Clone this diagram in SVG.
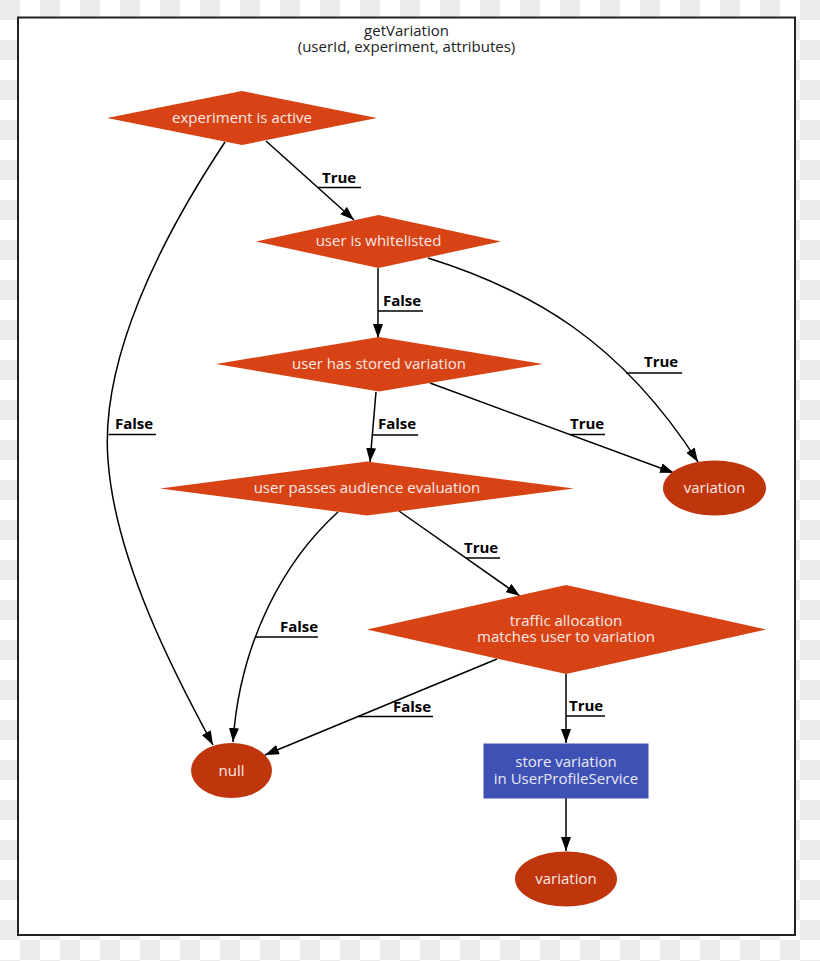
<svg xmlns="http://www.w3.org/2000/svg" width="820" height="961" viewBox="0 0 820 961">
<defs>
<pattern id="checker" x="0" y="0" width="40" height="40" patternUnits="userSpaceOnUse">
<rect width="40" height="40" fill="#ffffff"/>
<rect width="20" height="20" fill="#ececec"/>
<rect x="20" y="20" width="20" height="20" fill="#ececec"/>
</pattern>
<marker id="arr" markerWidth="14" markerHeight="10" refX="14" refY="5" orient="auto" markerUnits="userSpaceOnUse">
<path d="M0,0 L14,5 L0,10 z" fill="#000"/>
</marker>
<style>
.dia{fill:#d84315}
.ell{fill:#bf360c}
.box{fill:#3f51b5}
.nt{font-family:"Open Sans","Liberation Sans",sans-serif;font-size:15px;fill:#fbe9e7;text-anchor:middle}
.bt{fill:#e8eaf6}
.edge{fill:none;stroke:#000;stroke-width:1.5;marker-end:url(#arr)}
.ul{fill:none;stroke:#000;stroke-width:1.5}
.lbl{font-family:"Open Sans","Liberation Sans",sans-serif;font-size:15px;font-weight:bold;fill:#000}
.title{font-family:"Open Sans","Liberation Sans",sans-serif;font-size:15px;fill:#222;text-anchor:middle}
</style>
</defs>
<rect width="820" height="961" fill="url(#checker)"/>
<rect x="18" y="17.5" width="777" height="917.5" fill="#ffffff" stroke="#222" stroke-width="2"/>
<g id="title">
<text class="title" x="406.5" y="36">getVariation</text>
<text class="title" x="406.5" y="52">(userId, experiment, attributes)</text>
</g>
<g id="connectors">
<path class="edge" d="M266,141 L354,220"/>
<path class="edge" d="M225,142 C160,240 100,360 108,460 C115,560 175,675 213,745"/>
<path class="edge" d="M378,268 L378,338"/>
<path class="edge" d="M428,258 C530,290 620,340 698,462"/>
<path class="edge" d="M376,392 L370,462"/>
<path class="edge" d="M430,383 L674,473"/>
<path class="edge" d="M399,511 L520,596"/>
<path class="edge" d="M338,512 C285,560 240,640 233,742"/>
<path class="edge" d="M497,659 L265,755"/>
<path class="edge" d="M566,674 L566,743"/>
<path class="edge" d="M566,798 L566,851"/>
<g id="labels">
<text class="lbl" x="322" y="183">True</text>
<path class="ul" d="M318,187.5 H361"/>
<text class="lbl" x="115" y="429">False</text>
<path class="ul" d="M108.5,434.5 H156"/>
<text class="lbl" x="383" y="306">False</text>
<path class="ul" d="M378,311 H423"/>
<text class="lbl" x="644" y="367">True</text>
<path class="ul" d="M626,373 H682"/>
<text class="lbl" x="378" y="429">False</text>
<path class="ul" d="M372,435 H418"/>
<text class="lbl" x="570" y="429">True</text>
<path class="ul" d="M569.5,434.5 H605"/>
<text class="lbl" x="464" y="553">True</text>
<path class="ul" d="M466,558 H500"/>
<text class="lbl" x="280" y="632">False</text>
<path class="ul" d="M256,637 H318"/>
<text class="lbl" x="393" y="711.5">False</text>
<path class="ul" d="M358,716.5 H433"/>
<text class="lbl" x="569" y="711">True</text>
<path class="ul" d="M566,716 H605"/>
</g>
</g>
<g id="experiment-active">
<polygon class="dia" points="107,118 242,91 377,118 242,145"/>
<text class="nt" x="242" y="123">experiment is active</text>
</g>
<g id="user-whitelisted">
<polygon class="dia" points="256,241.5 378.5,215 501,241.5 378.5,268"/>
<text class="nt" x="378.5" y="246">user is whitelisted</text>
</g>
<g id="stored-variation">
<polygon class="dia" points="216,364 379,337 543,364 379,391.5"/>
<text class="nt" x="379" y="369">user has stored variation</text>
</g>
<g id="audience-evaluation">
<polygon class="dia" points="160,488.5 367,461.5 574,488.5 367,515.5"/>
<text class="nt" x="367" y="493">user passes audience evaluation</text>
</g>
<g id="traffic-allocation">
<polygon class="dia" points="367,629.5 566,585 766,629.5 566,674"/>
<text class="nt" x="566" y="626">traffic allocation</text>
<text class="nt" x="566" y="642">matches user to variation</text>
</g>
<g id="variation-1">
<ellipse class="ell" cx="714.5" cy="488" rx="51.5" ry="27.5"/>
<text class="nt" x="714.5" y="493">variation</text>
</g>
<g id="null">
<ellipse class="ell" cx="231.5" cy="770.5" rx="40.5" ry="27.5"/>
<text class="nt" x="231.5" y="775.5">null</text>
</g>
<g id="store-variation">
<rect class="box" x="483.5" y="743.5" width="165" height="55"/>
<text class="nt bt" x="566" y="767">store variation</text>
<text class="nt bt" x="566" y="784">in UserProfileService</text>
</g>
<g id="variation-2">
<ellipse class="ell" cx="566" cy="879" rx="51" ry="27.5"/>
<text class="nt" x="566" y="884">variation</text>
</g>
</svg>
